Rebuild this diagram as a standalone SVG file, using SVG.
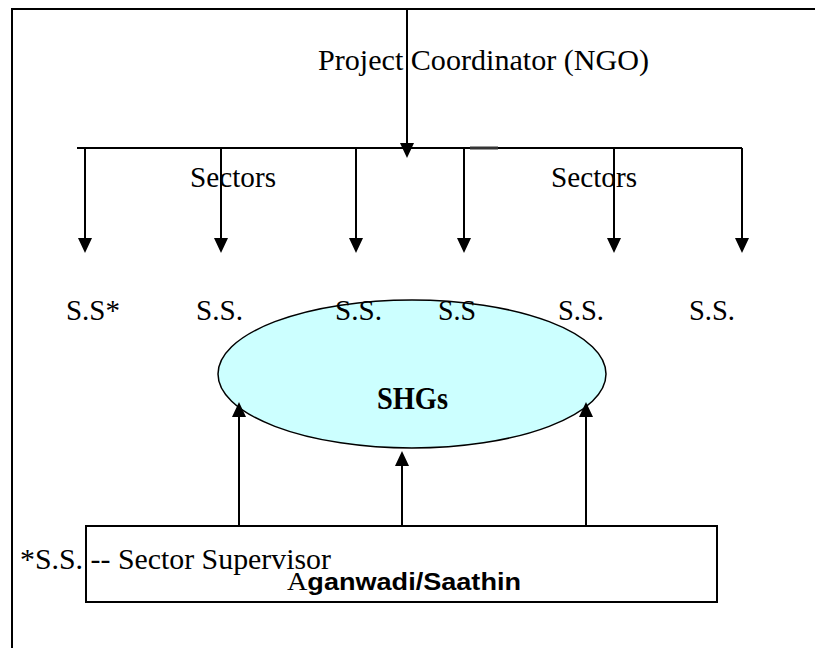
<svg xmlns="http://www.w3.org/2000/svg" width="815" height="648" viewBox="0 0 815 648">
  <defs>
    <!-- filled triangular arrowhead; its base sits on the line end -->
    <marker id="arrow" markerWidth="15" markerHeight="14" refX="0" refY="7" orient="auto" markerUnits="userSpaceOnUse" viewBox="0 0 15 14">
      <path d="M0,0 L15,7 L0,14 Z" fill="#000"/>
    </marker>
    <style>
      .ln { stroke: #000; stroke-width: 2; fill: none; }
      .arr { stroke: #000; stroke-width: 2; fill: none; marker-end: url(#arrow); }
      .t { font-family: "Liberation Serif", "Times New Roman", serif; font-size: 29px; fill: #000; }
      .b { font-weight: bold; }
      .sans { font-family: "Liberation Sans", Arial, sans-serif; font-weight: bold; }
    </style>
  </defs>
  <rect width="815" height="648" fill="#fff"/>

  <!-- page frame: top and left edges -->
  <g id="frame">
    <path class="ln" d="M815,9 H12 V648"/>
  </g>

  <!-- head of the organisation -->
  <g id="coordinator">
    <text class="t" x="318" y="70" textLength="331" lengthAdjust="spacingAndGlyphs">Project Coordinator (NGO)</text>
  </g>

  <g id="sectors-left">
    <text class="t" x="190" y="187" textLength="86" lengthAdjust="spacingAndGlyphs">Sectors</text>
  </g>
  <g id="sectors-right">
    <text class="t" x="551" y="187" textLength="86" lengthAdjust="spacingAndGlyphs">Sectors</text>
  </g>

  <!-- self-help groups -->
  <g id="shgs">
    <ellipse cx="412" cy="374" rx="194" ry="74" fill="#CCFFFF" stroke="#000" stroke-width="1.5"/>
    <text class="t b" x="377" y="409" style="font-size:31px" textLength="71" lengthAdjust="spacingAndGlyphs">SHGs</text>
  </g>

  <!-- sector supervisors -->
  <g id="ss1"><text class="t" x="66" y="320" textLength="54" lengthAdjust="spacingAndGlyphs">S.S*</text></g>
  <g id="ss2"><text class="t" x="196" y="320" textLength="47" lengthAdjust="spacingAndGlyphs">S.S.</text></g>
  <g id="ss3"><text class="t" x="335" y="320" textLength="47" lengthAdjust="spacingAndGlyphs">S.S.</text></g>
  <g id="ss4"><text class="t" x="438" y="320" textLength="38" lengthAdjust="spacingAndGlyphs">S.S</text></g>
  <g id="ss5"><text class="t" x="558" y="320" textLength="46" lengthAdjust="spacingAndGlyphs">S.S.</text></g>
  <g id="ss6"><text class="t" x="689" y="320" textLength="46" lengthAdjust="spacingAndGlyphs">S.S.</text></g>

  <!-- grassroots workers -->
  <g id="aganwadi">
    <rect x="86" y="526" width="631" height="76" fill="#fff" stroke="#000" stroke-width="2"/>
    <text x="287" y="590" textLength="234" lengthAdjust="spacingAndGlyphs"><tspan class="t" style="font-size:25px">A</tspan><tspan class="sans" style="font-size:24px">ganwadi/Saathin</tspan></text>
  </g>

  <!-- footnote -->
  <g id="legend">
    <text class="t" x="20" y="569" textLength="311" lengthAdjust="spacingAndGlyphs">*S.S. -- Sector Supervisor</text>
  </g>

  <!-- connectors -->
  <g id="connectors">
    <line class="arr" x1="407" y1="9" x2="407" y2="143"/>
    <line class="ln" x1="77" y1="148" x2="742" y2="148"/>
    <line x1="470" y1="148" x2="498" y2="148" stroke="#333" stroke-width="3"/>
    <line class="arr" x1="85" y1="148" x2="85" y2="238"/>
    <line class="arr" x1="221" y1="148" x2="221" y2="238"/>
    <line class="arr" x1="356" y1="148" x2="356" y2="238"/>
    <line class="arr" x1="464" y1="148" x2="464" y2="238"/>
    <line class="arr" x1="614" y1="148" x2="614" y2="238"/>
    <line class="arr" x1="742" y1="148" x2="742" y2="238"/>
    <line class="arr" x1="239" y1="526" x2="239" y2="417"/>
    <line class="arr" x1="402" y1="526" x2="402" y2="466"/>
    <line class="arr" x1="586" y1="526" x2="586" y2="417"/>
  </g>
</svg>
